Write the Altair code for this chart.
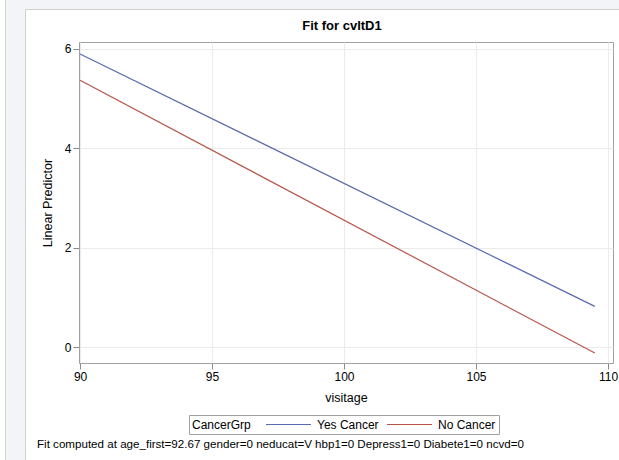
import altair as alt
import pandas as pd

# Data
visitage = [90.0, 109.5]
yes_cancer = [5.90, 0.82]
no_cancer = [5.37, -0.12]
groups = ["Yes Cancer", "No Cancer"]
colors = ["#5a6aae", "#b85548"]
x_ticks = [90, 95, 100, 105, 110]
y_ticks = [0, 2, 4, 6]
title_text = "Fit for cvltD1"
foot_text = "Fit computed at age_first=92.67 gender=0 neducat=V hbp1=0 Depress1=0 Diabete1=0 ncvd=0"

FONT = "Liberation Sans"
PAGE = "#f3f4f8"

rows = []
for g, vals in zip(groups, [yes_cancer, no_cancer]):
    for x, y in zip(visitage, vals):
        rows.append({"visitage": x, "pred": y, "CancerGrp": g})
df = pd.DataFrame(rows)
one = pd.DataFrame({"t": [title_text], "f": [foot_text]})

W, H = 534, 321

# decorative page background strips (outside the plot area)
strip_left = alt.Chart(one).mark_rect(fill=PAGE, strokeWidth=0).encode(
    x=alt.value(-74), x2=alt.value(-54), y=alt.value(-50), y2=alt.value(430)
)
strip_top = alt.Chart(one).mark_rect(fill=PAGE, strokeWidth=0).encode(
    x=alt.value(-74), x2=alt.value(560), y=alt.value(-50), y2=alt.value(-33)
)
left_line = alt.Chart(one).mark_rule(color="#d4d4d4", strokeWidth=1).encode(
    x=alt.value(-73.5), y=alt.value(-50), y2=alt.value(430)
)
panel_border = alt.Chart(one).mark_rect(fill="white", fillOpacity=0, stroke="#d0d0d0", strokeWidth=1).encode(
    x=alt.value(-53.5), x2=alt.value(560), y=alt.value(-32.5), y2=alt.value(440)
)

xs = alt.Scale(domain=[89.96, 110.19], nice=False, zero=False)
ys = alt.Scale(domain=[-0.32, 6.14], nice=False, zero=False)

lines = alt.Chart(df).mark_line(strokeWidth=1.2, clip=True).encode(
    x=alt.X("visitage:Q", scale=xs,
            axis=alt.Axis(values=x_ticks, title="visitage", format="d",
                          titleY=34, titleBaseline="middle")),
    y=alt.Y("pred:Q", scale=ys,
            axis=alt.Axis(values=y_ticks, title="Linear Predictor", format="d",
                          titleX=-32, titleY=H / 2, titleAngle=270,
                          titleBaseline="middle", titleAlign="center")),
    color=alt.Color("CancerGrp:N",
                    scale=alt.Scale(domain=groups, range=colors),
                    sort=groups,
                    legend=alt.Legend(orient="none", legendX=110, legendY=373,
                                      direction="horizontal", titleOrient="left",
                                      title="CancerGrp")),
    detail="CancerGrp:N",
)

title = alt.Chart(one).mark_text(font=FONT, fontSize=13, fontWeight="bold",
                                 color="#000000", baseline="middle", align="center").encode(
    text="t:N", x=alt.value(263), y=alt.value(-16)
)
foot = alt.Chart(one).mark_text(font=FONT, fontSize=11.6, color="#000000",
                                baseline="middle", align="left").encode(
    text="f:N", x=alt.value(-42), y=alt.value(403)
)

chart = alt.layer(strip_left, strip_top, left_line, panel_border, lines, title, foot).properties(
    width=W, height=H,
    autosize=alt.AutoSizeParams(type="none"),
    padding={"left": 79, "top": 42, "right": 6, "bottom": 97},
    background="white",
).configure_view(
    stroke="#a0a0a0", strokeWidth=1
).configure_axis(
    labelFont=FONT, titleFont=FONT, labelFontSize=12, titleFontSize=12.5,
    labelColor="#000000", titleColor="#000000", titleFontWeight="normal",
    gridColor="#ebebeb", gridWidth=1, domain=False,
    tickColor="#8a8a8a", tickSize=6, labelPadding=2,
).configure_legend(
    labelFont=FONT, titleFont=FONT, labelFontSize=12, titleFontSize=12,
    titleFontWeight="normal", labelColor="#000000", titleColor="#000000",
    strokeColor="#a0a0a0", padding=3, symbolType="stroke", symbolSize=2025,
    symbolStrokeWidth=1.2, columnPadding=7, titlePadding=14, labelOffset=5,
    titleBaseline="middle", fillColor="white", clipHeight=13,
)

chart.save("out.html", embed_options={"renderer": "svg", "actions": False})
